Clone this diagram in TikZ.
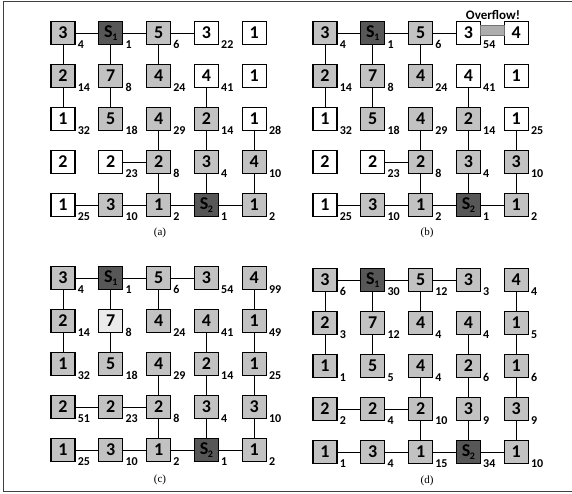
\documentclass[tikz,border=0pt]{standalone}
\usepackage{fontspec}
\setmainfont{Carlito}
\newfontfamily\capfont{Liberation Serif}
\usetikzlibrary{calc}
\newcommand\Sidx[1]{S\kern-0.3pt\raisebox{-3pt}{\fontsize{10}{10}\selectfont #1}}
\def\nolab{-}
\newcommand\cel[8]{% prefix, x0, y0, row, col, style, text, label
  \node[#6] (#1#4#5) at ({#2+47.8*(#5-1)},{#3+43*(#4-1)}) {#7};
  \edef\tmplab{#8}%
  \ifx\tmplab\nolab\else
    \node[lab] (#1#4#5L) at ([xshift=2pt,yshift=-3pt]#1#4#5.south east) {#8};
  \fi}
\begin{document}
\begin{tikzpicture}[x=1pt,y=-1pt,
  cbox/.style={draw=black, line width=1.2pt, minimum width=24pt, minimum height=23pt, inner sep=0pt,
    font=\bfseries\fontsize{18}{18}\selectfont},
  wb/.style={cbox, fill=white},
  gb/.style={cbox, fill=black!24},
  lb/.style={cbox, fill=black!8},
  db/.style={cbox, fill=black!66},
  lab/.style={anchor=base west, inner sep=0pt, font=\bfseries\fontsize{12}{12}\selectfont},
  edge/.style={draw=black, line width=0.9pt},
  capt/.style={font=\capfont\fontsize{11}{11}\selectfont, inner sep=0pt},
  ovfbox/.style={draw=black!55, line width=0.4pt, fill=black!32, minimum width=23.5pt, minimum height=10pt, inner sep=0pt},
  ovftext/.style={font=\bfseries\fontsize{13}{13}\selectfont, inner sep=0pt}]
\useasboundingbox (0,0) rectangle (572,493);
\draw[black!75, line width=0.8pt] (572,1.5) -- (3.5,1.5) -- (3.5,491) -- (572,491);

% ---------- panel (a)
\foreach \qr/\qc/\qs/\qt/\ql in {
  1/1/gb/3/4, 1/2/db/\Sidx{1}/1, 1/3/gb/5/6, 1/4/wb/3/22, 1/5/wb/1/-,
  2/1/gb/2/14, 2/2/gb/7/8, 2/3/gb/4/24, 2/4/wb/4/41, 2/5/wb/1/-,
  3/1/wb/1/32, 3/2/gb/5/18, 3/3/gb/4/29, 3/4/gb/2/14, 3/5/wb/1/28,
  4/1/wb/2/-, 4/2/wb/2/23, 4/3/gb/2/8, 4/4/gb/3/4, 4/5/gb/4/10,
  5/1/wb/1/25, 5/2/gb/3/10, 5/3/gb/1/2, 5/4/db/\Sidx{2}/1, 5/5/gb/1/2}
  {\cel{a}{63}{33}{\qr}{\qc}{\qs}{\qt}{\ql}}
\foreach \p/\q in {11/12,12/13,13/14,11/21,21/31,12/22,22/32,13/23,24/34,34/44,44/54,
  35/45,45/55,33/43,43/53,42/43,51/52,52/53,53/54,54/55}
  {\draw[edge] (a\p) -- (a\q);}
\node[capt] (capa) at (160,233) {(a)};

% ---------- panel (b)
\foreach \qr/\qc/\qs/\qt/\ql in {
  1/1/gb/3/4, 1/2/db/\Sidx{1}/1, 1/3/gb/5/6, 1/4/wb/3/54, 1/5/wb/4/-,
  2/1/gb/2/14, 2/2/gb/7/8, 2/3/gb/4/24, 2/4/wb/4/41, 2/5/wb/1/-,
  3/1/wb/1/32, 3/2/gb/5/18, 3/3/gb/4/29, 3/4/gb/2/14, 3/5/wb/1/25,
  4/1/wb/2/-, 4/2/wb/2/23, 4/3/gb/2/8, 4/4/gb/3/4, 4/5/gb/3/10,
  5/1/wb/1/25, 5/2/gb/3/10, 5/3/gb/1/2, 5/4/db/\Sidx{2}/1, 5/5/gb/1/2}
  {\cel{b}{325}{33}{\qr}{\qc}{\qs}{\qt}{\ql}}
\foreach \p/\q in {11/12,12/13,13/14,11/21,21/31,12/22,22/32,13/23,24/34,34/44,44/54,
  35/45,45/55,33/43,43/53,42/43,51/52,52/53,53/54,54/55}
  {\draw[edge] (b\p) -- (b\q);}
\node[ovfbox] (ovf) at ($(b14.east)!0.5!(b15.west)+(0,-3)$) {};
\node[ovftext] (ovft) at (493,15) {Overflow!};
\node[capt] (capb) at (427,233) {(b)};

% ---------- panel (c)
\foreach \qr/\qc/\qs/\qt/\ql in {
  1/1/gb/3/4, 1/2/db/\Sidx{1}/1, 1/3/gb/5/6, 1/4/gb/3/54, 1/5/gb/4/99,
  2/1/gb/2/14, 2/2/lb/7/8, 2/3/gb/4/24, 2/4/gb/4/41, 2/5/gb/1/49,
  3/1/gb/1/32, 3/2/gb/5/18, 3/3/gb/4/29, 3/4/gb/2/14, 3/5/gb/1/25,
  4/1/gb/2/51, 4/2/gb/2/23, 4/3/gb/2/8, 4/4/gb/3/4, 4/5/gb/3/10,
  5/1/gb/1/25, 5/2/gb/3/10, 5/3/gb/1/2, 5/4/db/\Sidx{2}/1, 5/5/gb/1/2}
  {\cel{c}{63}{278}{\qr}{\qc}{\qs}{\qt}{\ql}}
\foreach \p/\q in {11/12,12/13,13/14,11/21,21/31,12/22,22/32,13/23,24/34,34/44,44/54,
  15/25,25/35,35/45,45/55,33/43,43/53,41/42,42/43,51/52,52/53,53/54,54/55}
  {\draw[edge] (c\p) -- (c\q);}
\node[capt] (capc) at (160,480) {(c)};

% ---------- panel (d)
\foreach \qr/\qc/\qs/\qt/\ql in {
  1/1/gb/3/6, 1/2/db/\Sidx{1}/30, 1/3/gb/5/12, 1/4/gb/3/3, 1/5/gb/4/4,
  2/1/gb/2/3, 2/2/gb/7/12, 2/3/gb/4/4, 2/4/gb/4/4, 2/5/gb/1/5,
  3/1/gb/1/1, 3/2/gb/5/5, 3/3/gb/4/4, 3/4/gb/2/6, 3/5/gb/1/6,
  4/1/gb/2/2, 4/2/gb/2/4, 4/3/gb/2/10, 4/4/gb/3/9, 4/5/gb/3/9,
  5/1/gb/1/1, 5/2/gb/3/4, 5/3/gb/1/15, 5/4/db/\Sidx{2}/34, 5/5/gb/1/10}
  {\cel{d}{325}{280}{\qr}{\qc}{\qs}{\qt}{\ql}}
\foreach \p/\q in {11/12,12/13,13/14,11/21,21/31,12/22,22/32,13/23,24/34,34/44,44/54,
  15/25,25/35,35/45,45/55,33/43,43/53,41/42,42/43,51/52,52/53,53/54,54/55}
  {\draw[edge] (d\p) -- (d\q);}
\node[capt] (capd) at (427,481) {(d)};
\end{tikzpicture}
\end{document}
